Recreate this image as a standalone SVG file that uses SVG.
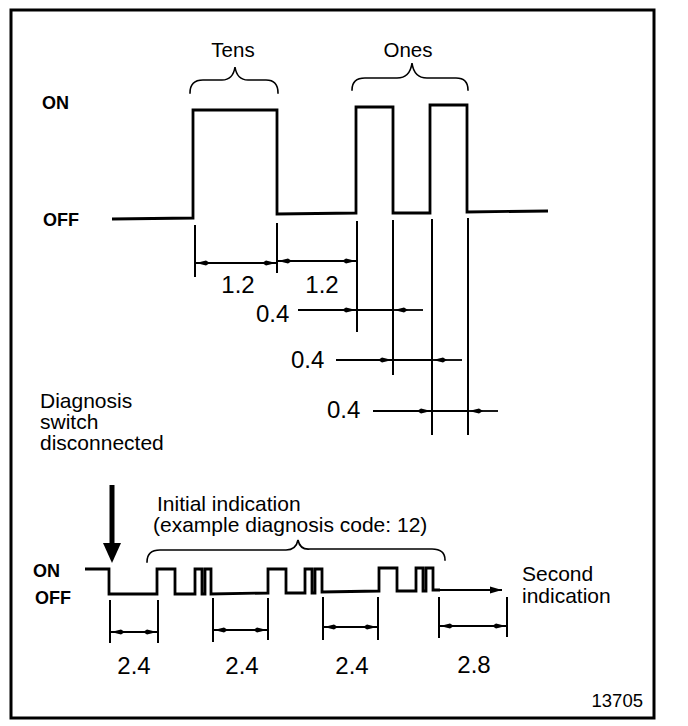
<svg xmlns="http://www.w3.org/2000/svg" width="688" height="726" viewBox="0 0 688 726">
<style>
.ln{fill:none;stroke:#000;stroke-width:1.6;stroke-linejoin:miter;stroke-linecap:square}
.wv{fill:none;stroke:#000;stroke-width:2.8;stroke-linejoin:miter}
.ex{fill:none;stroke:#000;stroke-width:2}
.dm{fill:none;stroke:#000;stroke-width:1.8}
.t{font-family:"Liberation Sans",Arial,sans-serif;fill:#000}
.b{font-family:"Liberation Sans",Arial,sans-serif;font-weight:bold;fill:#000;font-size:18px}
</style>
<defs>
<marker id="ah" viewBox="0 0 14 6" refX="14" refY="3" markerWidth="14" markerHeight="6" markerUnits="userSpaceOnUse" orient="auto-start-reverse">
<path d="M0,3 L4,0.6 L14,3 L4,5.4 z" fill="#000"/>
</marker>
<marker id="ah2" viewBox="0 0 12 8" refX="12" refY="4" markerWidth="12" markerHeight="8" markerUnits="userSpaceOnUse" orient="auto">
<path d="M0,0.5 L12,4 L0,7.5 z" fill="#000"/>
</marker>
</defs>
<rect x="11" y="10" width="643" height="708" fill="#fff" stroke="#000" stroke-width="3"/>

<g id="top-labels">
<text class="t" x="233" y="57" font-size="20.5" text-anchor="middle">Tens</text>
<text class="t" x="408" y="57" font-size="20.5" text-anchor="middle">Ones</text>
<text class="b" x="42" y="109">ON</text>
<text class="b" x="43" y="226">OFF</text>
</g>

<g id="braces">
<path class="ln" d="M190,93 Q190,80 203,80 L222,80 Q233,80 235,67 Q237,80 248,80 L266,80 Q278,80 278,93"/>
<path class="ln" d="M352,90 Q352,78 365,78 L397,78 Q410,78 412,63 Q414,78 427,78 L456,78 Q468,78 468,90"/>
</g>

<g id="top-waveform">
<path class="wv" d="M112,219 L193,218 L193,110 L277,110 L277,214 L356,213 L356,107 L393,107 L393,213 L430,213 L430,105 L467,105 L467,212 L548,211"/>
</g>

<g id="top-dimensions">
<path class="ex" d="M195,225 V277 M277,223 V273 M357,221 V332 M393,220 V375 M432,219 V435 M468,218 V435"/>
<path class="dm" d="M196,263 H276" marker-start="url(#ah)" marker-end="url(#ah)"/>
<path class="dm" d="M278,261 H356" marker-start="url(#ah)" marker-end="url(#ah)"/>
<path class="dm" d="M298,310 H356" marker-end="url(#ah)"/>
<path class="dm" d="M357,310 H393"/>
<path class="dm" d="M423,310 H394" marker-end="url(#ah)"/>
<path class="dm" d="M336,360 H392" marker-end="url(#ah)"/>
<path class="dm" d="M393,360 H432"/>
<path class="dm" d="M462,360 H433" marker-end="url(#ah)"/>
<path class="dm" d="M373,411 H431" marker-end="url(#ah)"/>
<path class="dm" d="M432,411 H468"/>
<path class="dm" d="M498,411 H469" marker-end="url(#ah)"/>
<text class="t" x="238" y="293" font-size="24" text-anchor="middle">1.2</text>
<text class="t" x="322" y="293" font-size="24" text-anchor="middle">1.2</text>
<text class="t" x="256" y="322" font-size="24">0.4</text>
<text class="t" x="291" y="368" font-size="24">0.4</text>
<text class="t" x="327" y="418" font-size="24">0.4</text>
</g>

<g id="switch-label">
<text class="t" font-size="21"><tspan x="40" y="408">Diagnosis</tspan><tspan x="40" y="429">switch</tspan><tspan x="40" y="450">disconnected</tspan></text>
<path d="M112,485 V545" stroke="#000" stroke-width="5"/>
<path d="M103,543 L121,543 L112,563 z" fill="#000"/>
</g>

<g id="bottom-labels">
<text class="t" font-size="21"><tspan x="157" y="511">Initial indication</tspan><tspan x="153" y="532">(example diagnosis code: 12)</tspan></text>
<text class="b" x="33" y="577">ON</text>
<text class="b" x="35" y="604">OFF</text>
<text class="t" font-size="21"><tspan x="522" y="581">Second</tspan><tspan x="522" y="603">indication</tspan></text>
<path class="ln" d="M147,562 Q147,550 160,550 L286,550 Q296,550 298,540 Q300,550 310,549 L432,549 Q445,549 445,560"/>
</g>

<g id="bottom-waveform">
<path class="wv" d="M85,569 L109,569 L109,594 L157,594 L157,569 L175,569 L175,594 L195,594 L195,569 L202,569 L202,594 L205,594 L205,569 L211,569 L211,594 L268,593 L268,569 L286,569 L286,593 L305,593 L305,569 L312,569 L312,593 L315,593 L315,569 L322,569 L322,592 L379,591 L379,568 L397,568 L397,591 L416,591 L416,568 L423,568 L423,591 L426,591 L426,568 L433,568 L433,590 L440,590"/>
<path class="dm" d="M433,590 H502" marker-end="url(#ah2)"/>
</g>

<g id="bottom-dimensions">
<path class="ex" d="M110,600 V643 M158,600 V643 M213,598 V642 M268,598 V640 M323,597 V640 M378,597 V640 M439,597 V638 M507,597 V637"/>
<path class="dm" d="M111,632 H157" marker-start="url(#ah)" marker-end="url(#ah)"/>
<path class="dm" d="M214,630 H267" marker-start="url(#ah)" marker-end="url(#ah)"/>
<path class="dm" d="M324,627 H377" marker-start="url(#ah)" marker-end="url(#ah)"/>
<path class="dm" d="M440,626 H506" marker-start="url(#ah)" marker-end="url(#ah)"/>
<text class="t" x="134" y="674" font-size="24" text-anchor="middle">2.4</text>
<text class="t" x="242" y="674" font-size="24" text-anchor="middle">2.4</text>
<text class="t" x="352" y="674" font-size="24" text-anchor="middle">2.4</text>
<text class="t" x="474" y="673" font-size="24" text-anchor="middle">2.8</text>
<text class="t" x="643" y="707" font-size="18.5" text-anchor="end">13705</text>
</g>
</svg>
